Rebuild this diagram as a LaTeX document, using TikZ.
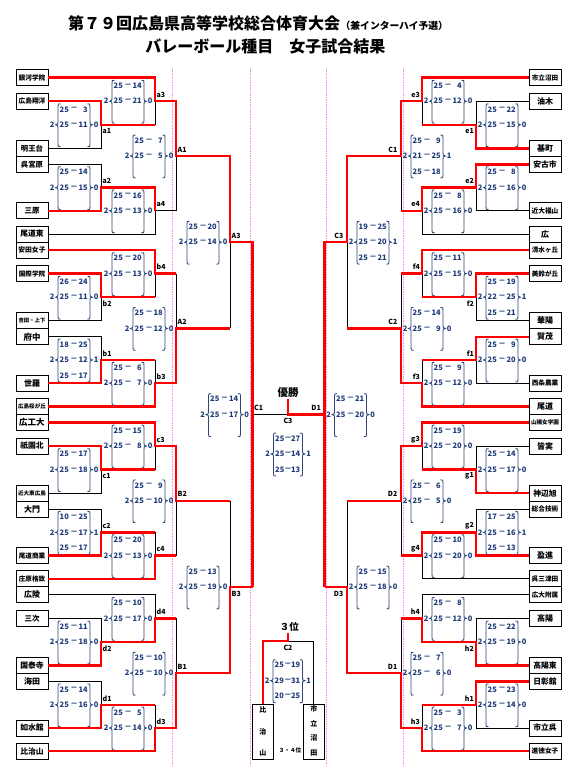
\documentclass[tikz,border=0pt]{standalone}
\usepackage{fontspec}
\setmainfont{Noto Sans CJK JP}
\definecolor{sred}{HTML}{FF0000}
\definecolor{snavy}{HTML}{1F3C7A}
\definecolor{sbr}{HTML}{2E4576}
\definecolor{spink}{HTML}{F08CF0}
\newcounter{blk}
\tikzset{
  team/.style={draw, line width=0.9pt, fill=white, minimum width=32pt, minimum height=16pt, inner sep=0pt},
  rl/.style={draw=sred, line width=2.3pt},
  bl/.style={draw=black, line width=0.9pt},
  pk/.style={draw=spink, line width=0.7pt, densely dotted},
  sc/.style={text=snavy, font=\bfseries\fontsize{7.5}{8}\selectfont, inner sep=0pt},
  brc/.style={draw=sbr, line width=0.85pt},
  lab/.style={font=\bfseries\fontsize{7}{8}\selectfont, inner sep=0pt},
  vch/.style={font=\bfseries\fontsize{7}{7}\selectfont, inner sep=0pt},
}
\newcommand\teambox[5]{\node[team, font=\bfseries\fontsize{#4}{#4}\selectfont] (#1) at (#2,#3) {#5};}
\newcommand\scoreblk[6]{%
  \stepcounter{blk}%
  \node[sc] (w\arabic{blk}) at (#1-5.8,#3) {#4};
  \node[sc] (l\arabic{blk}) at (#2+6.2,#3) {#5};
  \draw[brc] (#1+2.5,#3-21) .. controls (#1,#3-21) .. (#1,#3-18) -- (#1,#3-3)
     .. controls (#1,#3-0.6) .. (#1-2.4,#3) .. controls (#1,#3+0.6) .. (#1,#3+3)
     -- (#1,#3+19) .. controls (#1,#3+22) .. (#1+2.5,#3+22);
  \draw[brc] (#2-2.5,#3-21) .. controls (#2,#3-21) .. (#2,#3-18) -- (#2,#3-3)
     .. controls (#2,#3-0.6) .. (#2+2.4,#3) .. controls (#2,#3+0.6) .. (#2,#3+3)
     -- (#2,#3+19) .. controls (#2,#3+22) .. (#2-2.5,#3+22);
  \foreach \p/\q [count=\i] in {#6} {
    \node[sc,anchor=west] (p\arabic{blk}-\i) at (#1+1.5,#3+15.5*\i-31) {\p};
    \node[sc] (m\arabic{blk}-\i) at ({(#1+#2)/2},#3+15.5*\i-31) {－};
    \node[sc,anchor=east] (q\arabic{blk}-\i) at (#2-2,#3+15.5*\i-31) {\q};
  }
}
\begin{document}
\begin{tikzpicture}[x=1pt,y=-1pt]
\fill[white] (0,0) rectangle (577,771);
\useasboundingbox (0,0) rectangle (577,771);
% title
\node[anchor=west, inner sep=0pt, font=\bfseries\fontsize{16}{16}\selectfont] (ti1) at (68,23.3) {第７９回広島県高等学校総合体育大会};
\node[anchor=base west, inner sep=0pt, font=\bfseries\fontsize{9.8}{10}\selectfont] (ti1b) at (ti1.base east) {（兼インターハイ予選）};
\node[inner sep=0pt, font=\bfseries\fontsize{16}{16}\selectfont] (ti2) at (265.3,46.7) {バレーボール種目　女子試合結果};
% pink guide lines
\draw[pk] (172.5,68) -- (172.5,766);
\draw[pk] (250,68) -- (250,766);
\draw[pk] (326.5,68) -- (326.5,766);
\draw[pk] (403,68) -- (403,766);
% left teams
\teambox{L1}{32}{77.6}{6.7}{銀河学院}
\teambox{L2}{32}{101.2}{6.7}{広島翔洋}
\teambox{L3}{32}{148.4}{7.4}{明王台}
\teambox{L4}{32}{164.4}{7.4}{呉宮原}
\teambox{L5}{32}{210.8}{7.5}{三原}
\teambox{L6}{32}{234}{7.8}{尾道東}
\teambox{L7}{32}{250}{6.8}{安田女子}
\teambox{L8}{32}{273.6}{6.6}{国際学院}
\teambox{L9}{32}{320.8}{5.4}{吉田・上下}
\teambox{L10}{32}{336.8}{8.5}{府中}
\teambox{L11}{32}{383.2}{8}{世羅}
\teambox{L12}{32}{406.4}{5.6}{広島桜が丘}
\teambox{L13}{32}{422.4}{8.5}{広工大}
\teambox{L14}{32}{446}{7.8}{祇園北}
\teambox{L15}{32}{493.2}{5.6}{近大東広島}
\teambox{L16}{32}{509.2}{8}{大門}
\teambox{L17}{32}{555.6}{6.6}{尾道商業}
\teambox{L18}{32}{578.8}{6.6}{庄原格致}
\teambox{L19}{32}{594.8}{8}{広陵}
\teambox{L20}{32}{618.4}{7.5}{三次}
\teambox{L21}{32}{665.6}{7.8}{国泰寺}
\teambox{L22}{32}{681.6}{8}{海田}
\teambox{L23}{32}{728}{7.8}{如水館}
\teambox{L24}{32}{751.2}{7.8}{比治山}
% right teams
\teambox{R1}{545}{77.6}{6.6}{市立沼田}
\teambox{R2}{545}{101.2}{8}{油木}
\teambox{R3}{545}{148.4}{8}{基町}
\teambox{R4}{545}{164.4}{7.8}{安古市}
\teambox{R5}{545}{210.8}{6.7}{近大福山}
\teambox{R6}{545}{234}{8}{広}
\teambox{R7}{545}{250}{6.6}{清水ヶ丘}
\teambox{R8}{545}{273.6}{6.6}{美鈴が丘}
\teambox{R9}{545}{320.8}{8}{華陽}
\teambox{R10}{545}{336.8}{8}{賀茂}
\teambox{R11}{545}{383.2}{6.6}{西条農業}
\teambox{R12}{545}{406.4}{8}{尾道}
\teambox{R13}{545}{422.4}{5.6}{山陽女学園}
\teambox{R14}{545}{446}{8}{皆実}
\teambox{R15}{545}{493.2}{7.8}{神辺旭}
\teambox{R16}{545}{509.2}{6.7}{総合技術}
\teambox{R17}{545}{555.6}{8}{盈進}
\teambox{R18}{545}{578.8}{6.7}{呉三津田}
\teambox{R19}{545}{594.8}{6.6}{広大附属}
\teambox{R20}{545}{618.4}{8}{高陽}
\teambox{R21}{545}{665.6}{7.8}{高陽東}
\teambox{R22}{545}{681.6}{7.8}{日彰館}
\teambox{R23}{545}{728}{7.8}{市立呉}
\teambox{R24}{545}{751.2}{6.7}{進徳女子}
% third place boxes
\node[team, minimum width=21pt, minimum height=55pt] (T1) at (262.8,731.8) {};
\node[vch] (T1a) at (262.8,710) {比};
\node[vch] (T1b) at (262.8,732.3) {治};
\node[vch] (T1c) at (262.8,753.3) {山};
\node[team, minimum width=21pt, minimum height=55pt] (T2) at (313.8,731.8) {};
\node[vch] (T2a) at (313.8,709.3) {市};
\node[vch] (T2b) at (313.8,724) {立};
\node[vch] (T2c) at (313.8,737.8) {沼};
\node[vch] (T2d) at (313.8,752.7) {田};
% left black lines
\draw[bl] (L3.east) -- (101,148.4) -- (101,124.8);
\draw[bl] (L4.east) -- (101,164.4) -- (101,187.6);
\draw[bl] (155,101.2) -- (155,124.8);
\draw[bl] (L6.east) -- (155,234) -- (155,210.8) -- (176,210.8) -- (176,156);
\draw[bl] (L9.east) -- (101,320.8) -- (101,297.2);
\draw[bl] (L10.east) -- (101,336.8) -- (101,360);
\draw[bl] (155,273.6) -- (155,297.2);
\draw[bl] (155,360) -- (155,383.2);
\draw[bl] (176,273.6) -- (176,328.4);
\draw[bl] (230,242.2) -- (230,328.4);
\draw[bl] (L15.east) -- (101,493.2) -- (101,469.6);
\draw[bl] (L16.east) -- (101,509.2) -- (101,532.4);
\draw[bl] (155,446) -- (155,469.6);
\draw[bl] (155,532.4) -- (155,555.6);
\draw[bl] (176,500.8) -- (176,555.6);
\draw[bl] (230,500.8) -- (230,587);
\draw[bl] (L19.east) -- (155,594.8) -- (155,618.4);
\draw[bl] (L20.east) -- (101,618.4) -- (101,642);
\draw[bl] (176,618.4) -- (176,673.2);
\draw[bl] (L22.east) -- (101,681.6) -- (101,704.8);
\draw[bl] (155,704.8) -- (155,728);
\draw[bl] (252.5,414.6) -- (288,414.6);
% right black lines
\draw[bl] (R2.west) -- (476,101.2) -- (476,124.8);
\draw[bl] (422,101.2) -- (422,124.8);
\draw[bl] (R5.west) -- (476,210.8) -- (476,187.6);
\draw[bl] (R6.west) -- (422,234) -- (422,210.8);
\draw[bl] (401,156) -- (401,210.8);
\draw[bl] (347,242.2) -- (347,328.4);
\draw[bl] (R9.west) -- (476,320.8) -- (476,297.2);
\draw[bl] (422,273.6) -- (422,297.2);
\draw[bl] (R11.west) -- (476,383.2) -- (476,360);
\draw[bl] (422,360) -- (422,383.2);
\draw[bl] (401,273.6) -- (401,328.4);
\draw[bl] (R14.west) -- (476,446) -- (476,469.6);
\draw[bl] (422,446) -- (422,469.6);
\draw[bl] (R16.west) -- (476,509.2) -- (476,532.4);
\draw[bl] (R18.west) -- (422,578.8) -- (422,555.6);
\draw[bl] (401,500.8) -- (401,555.6);
\draw[bl] (347,500.8) -- (347,587);
\draw[bl] (R19.west) -- (422,594.8) -- (422,618.4);
\draw[bl] (R20.west) -- (476,618.4) -- (476,642);
\draw[bl] (401,618.4) -- (401,673.2);
\draw[bl] (R23.west) -- (476,728) -- (476,704.8);
\draw[bl] (422,704.8) -- (422,728);
\draw[bl] (288,641) -- (313.8,641) -- (T2.north);
% left red lines
\draw[rl] (L1.east) -- (155,77.6) -- (155,101.2) -- (176,101.2) -- (176,156) -- (230,156) -- (230,242.2) -- (252.5,242.2) -- (252.5,587);
\draw[rl] (155,124.8) -- (101,124.8) -- (101,101.2) -- (L2.east);
\draw[rl] (L5.east) -- (101,210.8) -- (101,187.6) -- (155,187.6) -- (155,210.8);
\draw[rl] (L7.east) -- (155,250) -- (155,273.6) -- (176,273.6);
\draw[rl] (155,297.2) -- (101,297.2) -- (101,273.6) -- (L8.east);
\draw[rl] (L11.east) -- (101,383.2) -- (101,360) -- (155,360);
\draw[rl] (L12.east) -- (155,406.4) -- (155,383.2) -- (176,383.2) -- (176,328.4) -- (230,328.4);
\draw[rl] (L13.east) -- (155,422.4) -- (155,446) -- (176,446) -- (176,500.8) -- (230,500.8);
\draw[rl] (155,469.6) -- (101,469.6) -- (101,446) -- (L14.east);
\draw[rl] (L17.east) -- (101,555.6) -- (101,532.4) -- (155,532.4);
\draw[rl] (L18.east) -- (155,578.8) -- (155,555.6) -- (176,555.6);
\draw[rl] (L21.east) -- (101,665.6) -- (101,642) -- (155,642) -- (155,618.4) -- (176,618.4);
\draw[rl] (L23.east) -- (101,728) -- (101,704.8) -- (155,704.8);
\draw[rl] (L24.east) -- (155,751.2) -- (155,728) -- (176,728) -- (176,673.2) -- (230,673.2) -- (230,587) -- (252.5,587);
% final / third red
\draw[rl] (288,399.3) -- (288,414.6) -- (324.5,414.6);
\draw[rl] (T1.north) -- (262.8,641) -- (288,641) -- (288,633.3);
% right red lines
\draw[rl] (R1.west) -- (422,77.6) -- (422,101.2) -- (401,101.2) -- (401,156) -- (347,156) -- (347,242.2) -- (324.5,242.2) -- (324.5,587);
\draw[rl] (422,124.8) -- (476,124.8) -- (476,148.4) -- (R3.west);
\draw[rl] (R4.west) -- (476,164.4) -- (476,187.6) -- (422,187.6) -- (422,210.8) -- (401,210.8);
\draw[rl] (R7.west) -- (422,250) -- (422,273.6) -- (401,273.6);
\draw[rl] (422,297.2) -- (476,297.2) -- (476,273.6) -- (R8.west);
\draw[rl] (R10.west) -- (476,336.8) -- (476,360) -- (422,360);
\draw[rl] (R12.west) -- (422,406.4) -- (422,383.2) -- (401,383.2) -- (401,328.4) -- (347,328.4);
\draw[rl] (R13.west) -- (422,422.4) -- (422,446) -- (401,446) -- (401,500.8) -- (347,500.8);
\draw[rl] (422,469.6) -- (476,469.6) -- (476,493.2) -- (R15.west);
\draw[rl] (R17.west) -- (476,555.6) -- (476,532.4) -- (422,532.4) -- (422,555.6) -- (401,555.6);
\draw[rl] (R21.west) -- (476,665.6) -- (476,642) -- (422,642) -- (422,618.4) -- (401,618.4);
\draw[rl] (R22.west) -- (476,681.6) -- (476,704.8) -- (422,704.8);
\draw[rl] (R24.west) -- (422,751.2) -- (422,728) -- (401,728) -- (401,673.2) -- (347,673.2) -- (347,587) -- (324.5,587);
% scores left
\scoreblk{58}{90}{124.8}{2}{0}{25/3,25/11}
\scoreblk{112}{144}{101.2}{2}{0}{25/14,25/21}
\scoreblk{58}{90}{187.6}{2}{0}{25/14,25/15}
\scoreblk{112}{144}{210.8}{2}{0}{25/16,25/13}
\scoreblk{133}{165}{156}{2}{0}{25/7,25/5}
\scoreblk{187}{219}{242.2}{2}{0}{25/20,25/14}
\scoreblk{58}{90}{297.2}{2}{0}{26/24,25/11}
\scoreblk{112}{144}{273.6}{2}{0}{25/20,25/13}
\scoreblk{58}{90}{360}{2}{1}{18/25,25/12,25/17}
\scoreblk{112}{144}{383.2}{2}{0}{25/6,25/7}
\scoreblk{133}{165}{328.4}{2}{0}{25/18,25/12}
\scoreblk{58}{90}{469.6}{2}{0}{25/17,25/18}
\scoreblk{112}{144}{446}{2}{0}{25/15,25/8}
\scoreblk{58}{90}{532.4}{2}{1}{10/25,25/17,25/17}
\scoreblk{112}{144}{555.6}{2}{0}{25/20,25/13}
\scoreblk{133}{165}{500.8}{2}{0}{25/9,25/10}
\scoreblk{187}{219}{587}{2}{0}{25/13,25/19}
\scoreblk{58}{90}{642}{2}{0}{25/11,25/18}
\scoreblk{112}{144}{618.4}{2}{0}{25/10,25/17}
\scoreblk{58}{90}{704.8}{2}{0}{25/14,25/16}
\scoreblk{112}{144}{728}{2}{0}{25/5,25/14}
\scoreblk{133}{165}{673.2}{2}{0}{25/10,25/10}
\scoreblk{208.5}{240.5}{414.6}{2}{0}{25/14,25/17}
% scores right
\scoreblk{432}{464}{101.2}{2}{0}{25/4,25/12}
\scoreblk{486}{518}{124.8}{2}{0}{25/22,25/15}
\scoreblk{411}{443}{156}{2}{1}{25/9,21/25,25/18}
\scoreblk{486}{518}{187.6}{2}{0}{25/8,25/16}
\scoreblk{432}{464}{210.8}{2}{0}{25/8,25/16}
\scoreblk{357}{389}{242.2}{2}{1}{19/25,25/20,25/21}
\scoreblk{432}{464}{273.6}{2}{0}{25/11,25/15}
\scoreblk{486}{518}{297.2}{2}{1}{25/19,22/25,25/21}
\scoreblk{411}{443}{328.4}{2}{0}{25/14,25/9}
\scoreblk{486}{518}{360}{2}{0}{25/9,25/20}
\scoreblk{432}{464}{383.2}{2}{0}{25/9,25/12}
\scoreblk{432}{464}{446}{2}{0}{25/19,25/20}
\scoreblk{486}{518}{469.6}{2}{0}{25/14,25/17}
\scoreblk{411}{443}{500.8}{2}{0}{25/6,25/5}
\scoreblk{486}{518}{532.4}{2}{1}{17/25,25/16,25/13}
\scoreblk{432}{464}{555.6}{2}{0}{25/10,25/20}
\scoreblk{357}{389}{587}{2}{0}{25/15,25/18}
\scoreblk{432}{464}{618.4}{2}{0}{25/8,25/12}
\scoreblk{486}{518}{642}{2}{0}{25/22,25/19}
\scoreblk{411}{443}{673.2}{2}{0}{25/7,25/6}
\scoreblk{486}{518}{704.8}{2}{0}{25/23,25/14}
\scoreblk{432}{464}{728}{2}{0}{25/3,25/7}
\scoreblk{334.5}{366.5}{414.6}{2}{0}{25/21,25/20}
% final and third
\scoreblk{273.5}{302.5}{454}{2}{1}{25/27,25/14,25/13}
\scoreblk{273}{302.5}{680.7}{2}{1}{25/19,29/31,20/25}
% labels left
\node[lab,anchor=west] (la3) at (156.5,94.7) {a3};
\node[lab,anchor=west] (la1) at (102.5,131.3) {a1};
\node[lab,anchor=west] (la2) at (102.5,181.1) {a2};
\node[lab,anchor=west] (la4) at (156.5,204.3) {a4};
\node[lab,anchor=west] (lA1) at (177.5,149.5) {A1};
\node[lab,anchor=west] (lA3) at (231.5,235.7) {A3};
\node[lab,anchor=west] (lb4) at (156.5,267.1) {b4};
\node[lab,anchor=west] (lb2) at (102.5,303.7) {b2};
\node[lab,anchor=west] (lb1) at (102.5,353.5) {b1};
\node[lab,anchor=west] (lb3) at (156.5,376.7) {b3};
\node[lab,anchor=west] (lA2) at (177.5,321.9) {A2};
\node[lab,anchor=west] (lc3) at (156.5,439.5) {c3};
\node[lab,anchor=west] (lc1) at (102.5,476.1) {c1};
\node[lab,anchor=west] (lc2) at (102.5,525.9) {c2};
\node[lab,anchor=west] (lc4) at (156.5,549.1) {c4};
\node[lab,anchor=west] (lB2) at (177.5,494.3) {B2};
\node[lab,anchor=west] (lB3) at (231.5,593.5) {B3};
\node[lab,anchor=west] (ld4) at (156.5,611.9) {d4};
\node[lab,anchor=west] (ld2) at (102.5,648.5) {d2};
\node[lab,anchor=west] (ld1) at (102.5,698.3) {d1};
\node[lab,anchor=west] (ld3) at (156.5,721.5) {d3};
\node[lab,anchor=west] (lB1) at (177.5,666.7) {B1};
\node[lab,anchor=west] (lC1) at (254,408.1) {C1};
% labels right
\node[lab,anchor=east] (le3) at (420,94.7) {e3};
\node[lab,anchor=east] (le1) at (474,131.3) {e1};
\node[lab,anchor=east] (le2) at (474,181.1) {e2};
\node[lab,anchor=east] (le4) at (420,204.3) {e4};
\node[lab,anchor=east] (lrC1) at (397.5,149.5) {C1};
\node[lab,anchor=east] (lrC3) at (343.5,235.7) {C3};
\node[lab,anchor=east] (lf4) at (420,267.1) {f4};
\node[lab,anchor=east] (lf2) at (474,303.7) {f2};
\node[lab,anchor=east] (lf1) at (474,353.5) {f1};
\node[lab,anchor=east] (lf3) at (420,376.7) {f3};
\node[lab,anchor=east] (lrC2) at (397.5,321.9) {C2};
\node[lab,anchor=east] (lg3) at (420,439.5) {g3};
\node[lab,anchor=east] (lg1) at (474,476.1) {g1};
\node[lab,anchor=east] (lg2) at (474,525.9) {g2};
\node[lab,anchor=east] (lg4) at (420,549.1) {g4};
\node[lab,anchor=east] (lD2) at (397.5,494.3) {D2};
\node[lab,anchor=east] (lD3) at (343.5,593.5) {D3};
\node[lab,anchor=east] (lh4) at (420,611.9) {h4};
\node[lab,anchor=east] (lh2) at (474,648.5) {h2};
\node[lab,anchor=east] (lh1) at (474,698.3) {h1};
\node[lab,anchor=east] (lh3) at (420,721.5) {h3};
\node[lab,anchor=east] (lD1g) at (397.5,666.7) {D1};
\node[lab,anchor=east] (lD1) at (321,408.1) {D1};
% center labels
\node[lab] (lC3) at (288,420.8) {C3};
\node[lab] (lC2) at (288,647.5) {C2};
\node[inner sep=0pt, font=\bfseries\fontsize{10.5}{11}\selectfont] (win) at (288,392.5) {優勝};
\node[inner sep=0pt, font=\bfseries\fontsize{9.5}{10}\selectfont] (third) at (289.3,626.5) {３位};
\node[inner sep=0pt, font=\bfseries\fontsize{5.6}{6}\selectfont] (t34) at (290,750.7) {３・４位};
\end{tikzpicture}
\end{document}
